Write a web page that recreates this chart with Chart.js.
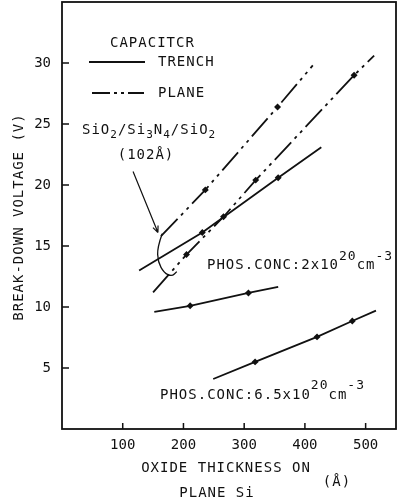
<!DOCTYPE html>
<html>
<head>
<meta charset="utf-8">
<script src="https://cdn.jsdelivr.net/npm/chart.js@4.4.0/dist/chart.umd.min.js"></script>
<style>
  html, body { margin: 0; padding: 0; background: #fff; }
  canvas { display: block; }
</style>
</head>
<body>
<canvas id="chart" width="401" height="504"></canvas>
<script>
'use strict';

// ---- Data ----
// x: oxide thickness on plane Si (Å), y: break-down voltage (V)
// line ends are included; *Mark = 1 where a measured point is drawn

const planeUpperX    = [163, 236, 355, 413];
const planeUpperY    = [15.8, 19.6, 26.4, 29.8];
const planeUpperMark = [0, 1, 1, 0];

const planeLowerX    = [150, 205, 266, 319, 481, 514];
const planeLowerY    = [11.2, 14.3, 17.4, 20.4, 29.0, 30.6];
const planeLowerMark = [0, 1, 1, 1, 1, 0];

const trenchUpperX    = [127, 231, 356, 427];
const trenchUpperY    = [13.0, 16.1, 20.6, 23.1];
const trenchUpperMark = [0, 1, 1, 0];

const trench2e20X    = [152, 211, 307, 356];
const trench2e20Y    = [9.6, 10.1, 11.15, 11.65];
const trench2e20Mark = [0, 1, 1, 0];

const trench65e20X    = [249, 318, 420, 478, 517];
const trench65e20Y    = [4.1, 5.5, 7.55, 8.85, 9.7];
const trench65e20Mark = [0, 1, 1, 1, 0];

const xTicks = [100, 200, 300, 400, 500];
const yTicks = [5, 10, 15, 20, 25, 30];

// annotation arrow and loop for the SiO2/Si3N4/SiO2 label (data units)
const arrowX = [117, 158];
const arrowY = [21.1, 16.1];
const loopX = [165, 157, 158, 168, 181, 189];
const loopY = [16.0, 14.9, 13.7, 12.8, 12.5, 12.9];

// ---- Helpers ----

const FONT = '"DejaVu Sans Mono", "Liberation Mono", monospace';
const INK = '#111';
const PLANE_DASH = [24, 5, 3, 5, 3, 5];

function series(xs, ys, marks, dash) {
  return {
    data: xs.map((x, i) => ({ x, y: ys[i] })),
    showLine: true,
    borderColor: INK,
    backgroundColor: INK,
    borderWidth: 1.8,
    borderDash: dash || [],
    pointRadius: marks.map(m => (m ? 2.2 : 0)),
    pointStyle: 'rectRot',
    tension: 0,
  };
}

function txt(ctx, s, x, y, size, align) {
  ctx.font = `${size}px ${FONT}`;
  ctx.textAlign = align || 'left';
  ctx.textBaseline = 'middle';
  ctx.fillText(s, x, y);
  return ctx.measureText(s).width;
}

// parts: [text, dy, size]
function rich(ctx, parts, x, y) {
  let cx = x;
  for (const [s, dy, size] of parts) {
    cx += txt(ctx, s, cx, y + dy, size, 'left');
  }
  return cx;
}

// ---- Overlay: frame, inward ticks, legend, labels, annotation ----

const overlay = {
  id: 'overlay',
  afterDraw(chart) {
    const { ctx, chartArea: a, scales: { x, y } } = chart;
    ctx.save();
    ctx.strokeStyle = INK;
    ctx.fillStyle = INK;
    ctx.letterSpacing = '1px';

    // frame
    ctx.lineWidth = 1.8;
    ctx.setLineDash([]);
    ctx.strokeRect(a.left, a.top, a.right - a.left, a.bottom - a.top);

    // inward tick marks
    ctx.lineWidth = 1.5;
    ctx.beginPath();
    xTicks.forEach(v => {
      const px = x.getPixelForValue(v);
      ctx.moveTo(px, a.bottom); ctx.lineTo(px, a.bottom - 6);
    });
    yTicks.forEach(v => {
      const py = y.getPixelForValue(v);
      ctx.moveTo(a.left, py); ctx.lineTo(a.left + 7, py);
    });
    ctx.stroke();

    // legend
    txt(ctx, 'CAPACITCR', 110, 43, 14);
    ctx.lineWidth = 1.8;
    ctx.beginPath();
    ctx.moveTo(89, 62); ctx.lineTo(145, 62);
    ctx.stroke();
    txt(ctx, 'TRENCH', 158, 62, 14);
    ctx.setLineDash([18, 4, 3, 4, 3, 4]);
    ctx.beginPath();
    ctx.moveTo(92, 93); ctx.lineTo(144, 93);
    ctx.stroke();
    ctx.setLineDash([]);
    txt(ctx, 'PLANE', 158, 93, 14);

    // SiO2/Si3N4/SiO2 label
    rich(ctx, [
      ['SiO', 0, 14], ['2', 5, 11], ['/Si', 0, 14], ['3', 5, 11],
      ['N', 0, 14], ['4', 5, 11], ['/SiO', 0, 14], ['2', 5, 11],
    ], 82, 130);
    txt(ctx, '(102Å)', 146, 155, 14, 'center');

    // arrow
    const ax0 = x.getPixelForValue(arrowX[0]), ay0 = y.getPixelForValue(arrowY[0]);
    const ax1 = x.getPixelForValue(arrowX[1]), ay1 = y.getPixelForValue(arrowY[1]);
    const ang = Math.atan2(ay1 - ay0, ax1 - ax0);
    ctx.lineWidth = 1.2;
    ctx.beginPath();
    ctx.moveTo(ax0, ay0); ctx.lineTo(ax1, ay1);
    ctx.moveTo(ax1, ay1);
    ctx.lineTo(ax1 - 7 * Math.cos(ang - 0.4), ay1 - 7 * Math.sin(ang - 0.4));
    ctx.moveTo(ax1, ay1);
    ctx.lineTo(ax1 - 7 * Math.cos(ang + 0.4), ay1 - 7 * Math.sin(ang + 0.4));
    ctx.stroke();

    // loop linking the two lines
    const lp = loopX.map((v, i) => [x.getPixelForValue(v), y.getPixelForValue(loopY[i])]);
    ctx.lineWidth = 1.3;
    ctx.beginPath();
    ctx.moveTo(lp[0][0], lp[0][1]);
    for (let i = 1; i < lp.length - 1; i++) {
      const mx = (lp[i][0] + lp[i + 1][0]) / 2, my = (lp[i][1] + lp[i + 1][1]) / 2;
      ctx.quadraticCurveTo(lp[i][0], lp[i][1], mx, my);
    }
    ctx.lineTo(lp[lp.length - 1][0], lp[lp.length - 1][1]);
    ctx.stroke();

    // concentration labels
    let e = rich(ctx, [['PHOS.CONC:2x10', 0, 14], ['20', -8, 13], ['cm', 0, 14]], 207, 265);
    rich(ctx, [['-3', -8, 13]], e, 265);
    e = rich(ctx, [['PHOS.CONC:6.5x10', 0, 14], ['20', -9, 13], ['cm', 0, 14]], 160, 395);
    rich(ctx, [['-3', -9, 13]], e, 395);

    // axis titles
    txt(ctx, 'OXIDE THICKNESS ON', 226, 468, 14, 'center');
    txt(ctx, 'PLANE Si', 217, 493, 14, 'center');
    txt(ctx, '(Å)', 337, 482, 14, 'center');

    ctx.save();
    ctx.translate(19, 217);
    ctx.rotate(-Math.PI / 2);
    txt(ctx, 'BREAK-DOWN VOLTAGE (V)', 0, 0, 14, 'center');
    ctx.restore();

    ctx.restore();
  },
};

// ---- Chart ----

function noPad(s) {
  s.paddingTop = 0; s.paddingBottom = 0; s.paddingLeft = 0; s.paddingRight = 0;
}

new Chart(document.getElementById('chart').getContext('2d'), {
  type: 'scatter',
  data: {
    datasets: [
      series(planeUpperX, planeUpperY, planeUpperMark, PLANE_DASH),
      series(planeLowerX, planeLowerY, planeLowerMark, PLANE_DASH),
      series(trenchUpperX, trenchUpperY, trenchUpperMark),
      series(trench2e20X, trench2e20Y, trench2e20Mark),
      series(trench65e20X, trench65e20Y, trench65e20Mark),
    ],
  },
  options: {
    responsive: false,
    animation: false,
    layout: { padding: { top: 2, right: 5, left: 0, bottom: 0 } },
    plugins: { legend: { display: false }, tooltip: { enabled: false } },
    scales: {
      x: {
        type: 'linear',
        min: 0,
        max: 550,
        afterBuildTicks: s => { s.ticks = xTicks.map(v => ({ value: v })); },
        afterFit: s => { s.height = 75; noPad(s); },
        grid: { display: false, drawTicks: false },
        border: { display: false },
        ticks: { color: INK, padding: 8, maxRotation: 0, font: { family: FONT, size: 14 } },
      },
      y: {
        type: 'linear',
        min: 0,
        max: 35,
        afterBuildTicks: s => { s.ticks = yTicks.map(v => ({ value: v })); },
        afterFit: s => { s.width = 62; noPad(s); },
        grid: { display: false, drawTicks: false },
        border: { display: false },
        ticks: { color: INK, padding: 11, font: { family: FONT, size: 14 } },
      },
    },
  },
  plugins: [overlay],
});
</script>
</body>
</html>
